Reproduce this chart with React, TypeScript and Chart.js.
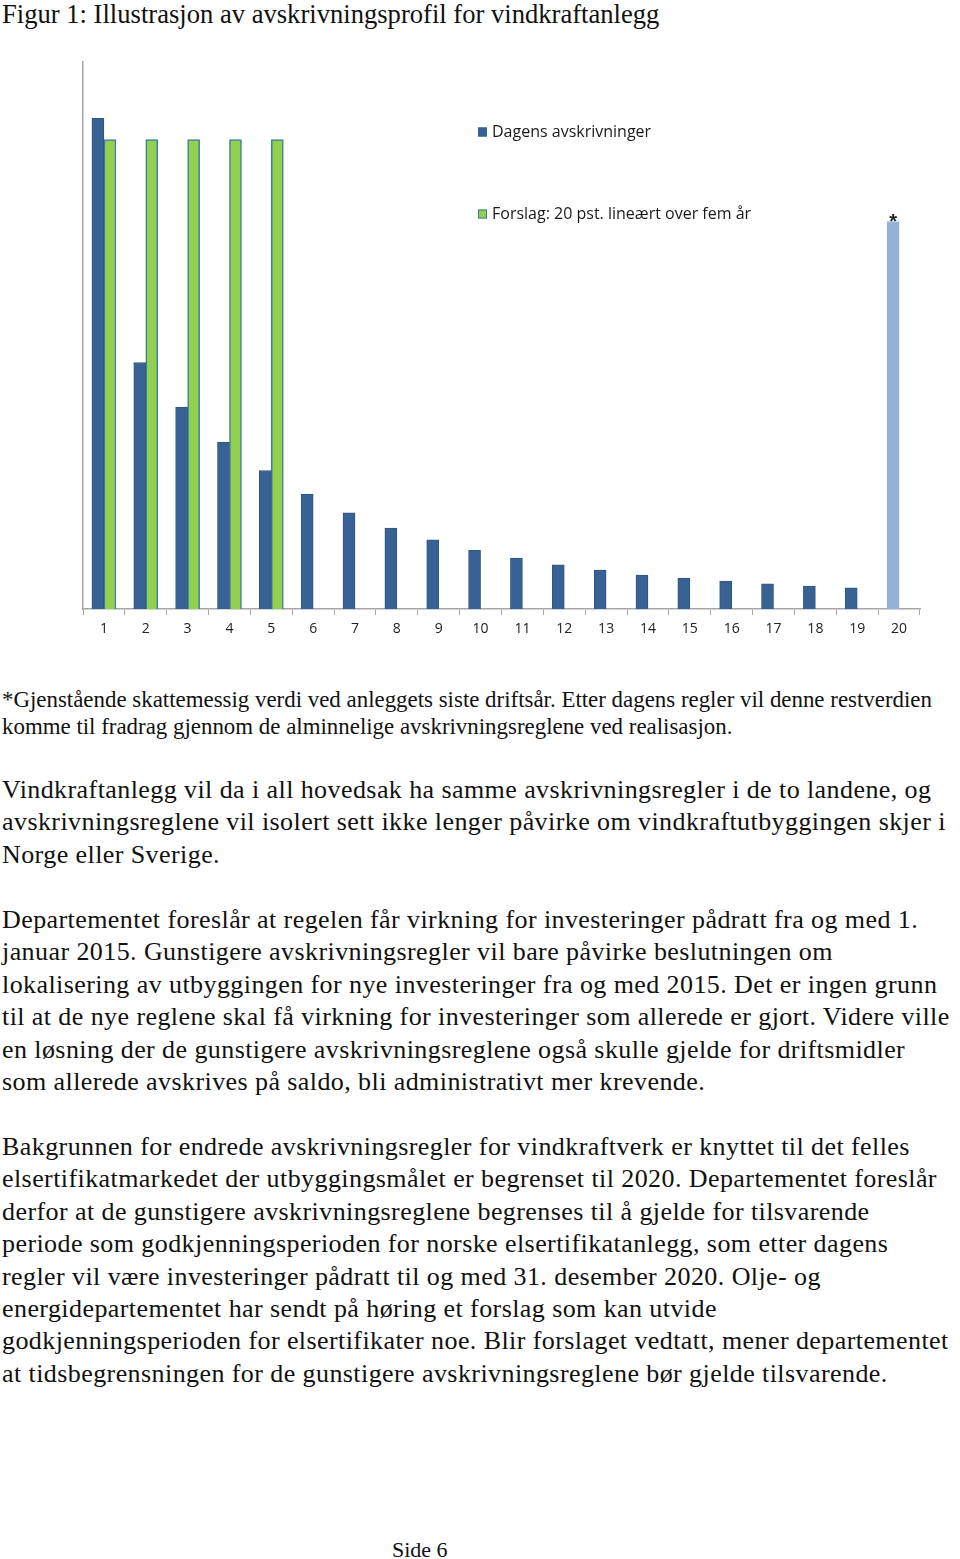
import React, { useEffect, useRef } from "react";
import { Chart, registerables } from "chart.js";

Chart.register(...registerables);

const years = ["1","2","3","4","5","6","7","8","9","10","11","12","13","14","15","16","17","18","19","20"];
const dagens = [20.9, 10.5, 8.6, 7.1, 5.9, 4.9, 4.1, 3.45, 2.95, 2.5, 2.17, 1.88, 1.66, 1.45, 1.32, 1.19, 1.07, 0.98, 0.9, 16.5];
const forslag = [20, 20, 20, 20, 20, null, null, null, null, null, null, null, null, null, null, null, null, null, null, null];
const legendLabels = ["Dagens avskrivninger", "Forslag: 20 pst. lineært over fem år"];
const restIndex = 19;
const yMax = 23.3;

const BLUE = "#386293";
const LIGHT = "#95b3d7";
const GREEN = "#92d050";
const GREEN_BORDER = "#3c7e9e";

const title = "Figur 1: Illustrasjon av avskrivningsprofil for vindkraftanlegg";
const footnote = [
  "*Gjenstående skattemessig verdi ved anleggets siste driftsår. Etter dagens regler vil denne restverdien",
  "komme til fradrag gjennom de alminnelige avskrivningsreglene ved realisasjon.",
];
const paragraphs = [
  [
    "Vindkraftanlegg vil da i all hovedsak ha samme avskrivningsregler i de to landene, og",
    "avskrivningsreglene vil isolert sett ikke lenger påvirke om vindkraftutbyggingen skjer i",
    "Norge eller Sverige.",
  ],
  [
    "Departementet foreslår at regelen får virkning for investeringer pådratt fra og med 1.",
    "januar 2015. Gunstigere avskrivningsregler vil bare påvirke beslutningen om",
    "lokalisering av utbyggingen for nye investeringer fra og med 2015. Det er ingen grunn",
    "til at de nye reglene skal få virkning for investeringer som allerede er gjort. Videre ville",
    "en løsning der de gunstigere avskrivningsreglene også skulle gjelde for driftsmidler",
    "som allerede avskrives på saldo, bli administrativt mer krevende.",
  ],
  [
    "Bakgrunnen for endrede avskrivningsregler for vindkraftverk er knyttet til det felles",
    "elsertifikatmarkedet der utbyggingsmålet er begrenset til 2020. Departementet foreslår",
    "derfor at de gunstigere avskrivningsreglene begrenses til å gjelde for tilsvarende",
    "periode som godkjenningsperioden for norske elsertifikatanlegg, som etter dagens",
    "regler vil være investeringer pådratt til og med 31. desember 2020. Olje- og",
    "energidepartementet har sendt på høring et forslag som kan utvide",
    "godkjenningsperioden for elsertifikater noe. Blir forslaget vedtatt, mener departementet",
    "at tidsbegrensningen for de gunstigere avskrivningsreglene bør gjelde tilsvarende.",
  ],
];
const paragraphTops = [774, 904, 1131];
const pageLabel = "Side 6";

const overlayPlugin = {
  id: "overlay",
  afterDatasetsDraw(chart: any) {
    const ctx = chart.ctx;
    ctx.save();
    const entries = [
      { text: legendLabels[0], fill: BLUE, stroke: BLUE, y: 132 - 40 },
      { text: legendLabels[1], fill: GREEN, stroke: GREEN_BORDER, y: 214 - 40 },
    ];
    ctx.font = "16px 'Open Sans', 'Liberation Sans', sans-serif";
    ctx.textBaseline = "middle";
    ctx.textAlign = "left";
    for (const e of entries) {
      ctx.fillStyle = e.fill;
      ctx.fillRect(478, e.y - 4.5, 9, 9);
      ctx.strokeStyle = e.stroke;
      ctx.lineWidth = 1;
      ctx.strokeRect(478.5, e.y - 4, 8, 8);
      ctx.fillStyle = "#1a1a1a";
      ctx.fillText(e.text, 492, e.y);
    }
    const meta = chart.getDatasetMeta(0);
    const bar = meta.data[restIndex];
    if (bar) {
      ctx.font = "bold 20px 'Liberation Sans', sans-serif";
      ctx.textAlign = "center";
      ctx.textBaseline = "alphabetic";
      ctx.fillStyle = "#222";
      ctx.fillText("*", bar.x, bar.y + 6);
    }
    ctx.restore();
  },
};

function BarChart() {
  const ref = useRef<HTMLCanvasElement | null>(null);
  useEffect(() => {
    if (!ref.current) return;
    const chart = new Chart(ref.current, {
      type: "bar",
      data: {
        labels: years,
        datasets: [
          {
            label: legendLabels[0],
            data: dagens,
            backgroundColor: dagens.map((_, i) => (i === restIndex ? LIGHT : BLUE)),
            borderColor: dagens.map((_, i) => (i === restIndex ? LIGHT : "#2f5684")),
            borderWidth: 1,
            barThickness: 12,
          },
          {
            label: legendLabels[1],
            data: forslag,
            backgroundColor: GREEN,
            borderColor: GREEN_BORDER,
            borderWidth: 1.5,
            barThickness: 12,
          },
        ],
      },
      options: {
        responsive: false,
        animation: false,
        layout: { padding: { left: 83, right: 40, top: 22, bottom: 0 } },
        plugins: { legend: { display: false }, tooltip: { enabled: false } },
        scales: {
          x: {
            grid: {
              offset: true,
              drawOnChartArea: false,
              drawTicks: true,
              tickLength: 6,
              color: "#a6a6a6",
            },
            border: { display: true, color: "#a6a6a6", width: 1.5 },
            ticks: {
              color: "#222",
              font: { family: "'Open Sans', 'Liberation Sans', sans-serif", size: 14 },
              padding: 6,
              maxRotation: 0,
              autoSkip: false,
            },
            afterFit: (s: any) => {
              s.height = 51;
            },
          },
          y: {
            min: 0,
            max: yMax,
            grid: { display: false, drawTicks: false },
            border: { display: true, color: "#a6a6a6", width: 1.5 },
            ticks: { display: false },
            afterFit: (s: any) => {
              s.width = 0;
            },
          },
        },
      },
      plugins: [overlayPlugin],
    });
    return () => chart.destroy();
  }, []);
  return <canvas ref={ref} width={960} height={620} style={{ position: "absolute", left: 0, top: 40, width: 960, height: 620 }} />;
}

export default function App() {
  useEffect(() => {
    document.body.style.margin = "0";
  }, []);
  const serif = "'Liberation Serif', 'Times New Roman', serif";
  return (
    <div style={{ position: "relative", width: 960, height: 1559, background: "#fff", overflow: "hidden", fontFamily: serif, color: "#111" }}>
      <div style={{ position: "absolute", left: 2, top: -1, fontSize: 26.6, lineHeight: "30px", whiteSpace: "nowrap" }}>{title}</div>
      <BarChart />
      <div style={{ position: "absolute", left: 2, top: 686, fontSize: 22.9, lineHeight: "27px", whiteSpace: "nowrap" }}>
        {footnote.map((l, i) => (
          <div key={i}>{l}</div>
        ))}
      </div>
      {paragraphs.map((p, pi) => (
        <div key={pi} style={{ position: "absolute", left: 2, top: paragraphTops[pi], fontSize: 26, letterSpacing: "0.42px", lineHeight: "32.4px", whiteSpace: "nowrap" }}>
          {p.map((l, i) => (
            <div key={i}>{l}</div>
          ))}
        </div>
      ))}
      <div style={{ position: "absolute", left: 392, top: 1536, fontSize: 22, lineHeight: "28px", whiteSpace: "nowrap" }}>{pageLabel}</div>
    </div>
  );
}
